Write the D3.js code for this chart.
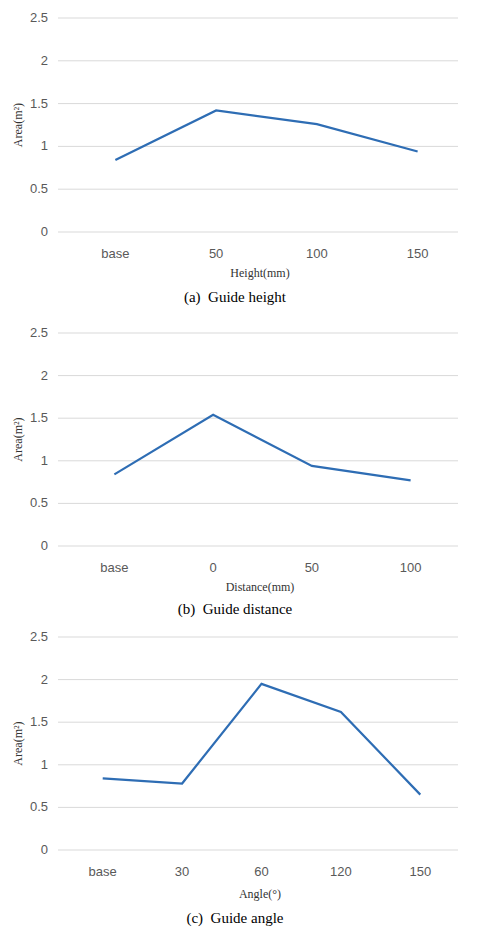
<!DOCTYPE html>
<html><head><meta charset="utf-8">
<script src="https://cdn.jsdelivr.net/npm/d3@7"></script>
<style>body{margin:0;background:#fff}</style></head>
<body><svg id="c" width="481" height="936"></svg>
<script>
const catsA=["base","50","100","150"], valsA=[0.84,1.42,1.26,0.94];
const catsB=["base","0","50","100"], valsB=[0.84,1.54,0.94,0.77];
const catsC=["base","30","60","120","150"], valsC=[0.84,0.78,1.95,1.62,0.65];
const yTicks=[0,0.5,1,1.5,2,2.5];
const panels=[
 {cats:catsA,vals:valsA,top:18,bot:232,x0:65,x1:468,xl:"Height(mm)",xly:277,cap:"(a)  Guide height",capy:302},
 {cats:catsB,vals:valsB,top:333,bot:546,x0:65,x1:460,xl:"Distance(mm)",xly:591,cap:"(b)  Guide distance",capy:614},
 {cats:catsC,vals:valsC,top:637,bot:850,x0:63,x1:460,xl:"Angle(°)",xly:898,cap:"(c)  Guide angle",capy:923}
];
const svg=d3.select("#c");
panels.forEach(p=>{
 const g=svg.append("g");
 const y=d3.scaleLinear().domain([0,2.5]).range([p.bot,p.top]);
 const x=d3.scalePoint().domain(p.cats).range([p.x0,p.x1]).padding(0.5);
 g.selectAll("line.g").data(yTicks).join("line").attr("x1",58).attr("x2",458)
  .attr("y1",d=>y(d)).attr("y2",d=>y(d)).attr("stroke","#d9d9d9").attr("stroke-width",1);
 g.selectAll("text.yt").data(yTicks).join("text").attr("x",48).attr("y",d=>y(d)+4)
  .attr("text-anchor","end").attr("font-family","Liberation Sans, Arial").attr("font-size",13).attr("fill","#595959").text(d=>d);
 g.selectAll("text.xt").data(p.cats).join("text").attr("x",d=>x(d)).attr("y",p.bot+26)
  .attr("text-anchor","middle").attr("font-family","Liberation Sans, Arial").attr("font-size",13).attr("fill","#595959").text(d=>d);
 g.append("path").datum(p.vals.map((v,i)=>[x(p.cats[i]),y(v)]))
  .attr("d",d3.line()).attr("fill","none").attr("stroke","#2e6db4").attr("stroke-width",2.2);
 g.append("text").attr("x",260).attr("y",p.xly).attr("text-anchor","middle")
  .attr("font-family","Liberation Serif, Times New Roman").attr("font-size",12).attr("fill","#333").text(p.xl);
 g.append("text").attr("transform",`translate(22,${(p.top+p.bot)/2}) rotate(-90)`).attr("text-anchor","middle")
  .attr("font-family","Liberation Serif, Times New Roman").attr("font-size",12).attr("fill","#333").text("Area(m²)");
 g.append("text").attr("x",235).attr("y",p.capy).attr("text-anchor","middle")
  .attr("font-family","Liberation Serif, Times New Roman").attr("font-size",15).attr("fill","#000")
  .attr("xml:space","preserve").style("white-space","pre").text(p.cap);
});
</script></body></html>
